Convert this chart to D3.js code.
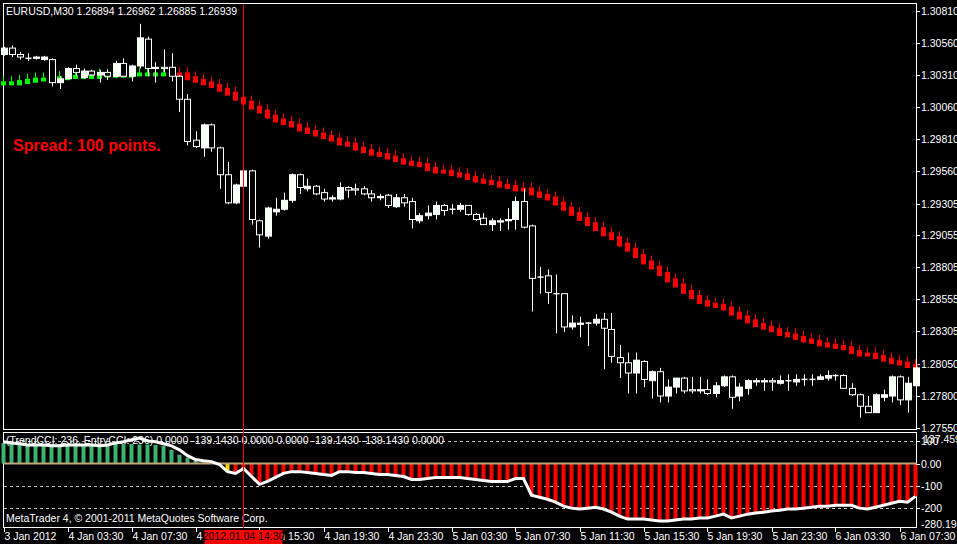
<!DOCTYPE html>
<html>
<head>
<meta charset="utf-8">
<script src="https://cdn.jsdelivr.net/npm/d3@7"></script>
<style>
  body { margin: 0; background: #000; }
  svg text { font-family: "Liberation Sans", Arial, sans-serif; font-size: 10.5px; fill: #fff; }
</style>
</head>
<body>
<svg id="chart" width="957" height="544"></svg>
<script>
// candles: open, high, low, close
var opens  = [1.3047,1.3052,1.3047,1.3044,1.3044,1.3043,1.3043,1.3025,1.3028,1.3036,1.3029,1.3034,1.3031,1.3033,1.3030,1.3040,1.3030,1.3038,1.3059,1.3036,
              1.3037,1.3037,1.3030,1.3012,1.2980,1.2974,1.2992,1.2974,1.2953,1.2931,1.2944,1.2956,1.2917,1.2905,1.2924,1.2926,1.2933,1.2953,1.2942,1.2944,
              1.2939,1.2934,1.2934,1.2943,1.2942,1.2942,1.2938,1.2935,1.2937,1.2928,1.2935,1.2932,1.2917,1.2921,1.2922,1.2929,1.2926,1.2926,1.2929,1.2922,
              1.2919,1.2914,1.2916,1.2917,1.2918,1.2932,1.2913,1.2873,1.2874,1.2860,1.2860,1.2834,1.2836,1.2837,1.2837,1.2840,1.2832,1.2810,1.2806,1.2798,
              1.2807,1.2792,1.2799,1.2780,1.2787,1.2794,1.2785,1.2784,1.2785,1.2782,1.2788,1.2795,1.2780,1.2786,1.2791,1.2791,1.2792,1.2790,1.2792,1.2791,
              1.2793,1.2793,1.2793,1.2794,1.2796,1.2796,1.2786,1.2781,1.2772,1.2767,1.2779,1.2780,1.2795,1.2777,1.2788]
var highs  = [1.3053,1.3054,1.3049,1.3048,1.3046,1.3046,1.3044,1.3030,1.3037,1.3039,1.3036,1.3035,1.3035,1.3035,1.3042,1.3044,1.3039,1.3071,1.3061,1.3041,
              1.3051,1.3048,1.3031,1.3016,1.2987,1.2993,1.2993,1.2975,1.2963,1.2946,1.2960,1.2957,1.2918,1.2928,1.2935,1.2939,1.2954,1.2954,1.2950,1.2945,
              1.2942,1.2937,1.2947,1.2944,1.2946,1.2944,1.2941,1.2938,1.2938,1.2938,1.2938,1.2935,1.2923,1.2929,1.2932,1.2930,1.2930,1.2931,1.2929,1.2923,
              1.2923,1.2919,1.2919,1.2927,1.2936,1.2942,1.2914,1.2881,1.2879,1.2875,1.2860,1.2843,1.2842,1.2838,1.2844,1.2845,1.2845,1.2820,1.2814,1.2814,
              1.2808,1.2800,1.2802,1.2793,1.2794,1.2795,1.2795,1.2795,1.2793,1.2791,1.2796,1.2796,1.2790,1.2793,1.2794,1.2794,1.2794,1.2796,1.2797,1.2797,
              1.2797,1.2797,1.2797,1.2800,1.2797,1.2797,1.2790,1.2782,1.2780,1.2782,1.2785,1.2796,1.2796,1.2795,1.2811]
var lows   = [1.3046,1.3045,1.3043,1.3042,1.3043,1.3042,1.3022,1.3020,1.3028,1.3030,1.3028,1.3030,1.3025,1.3027,1.3029,1.3030,1.3026,1.3036,1.3030,1.3025,
              1.3033,1.3026,1.3002,1.2976,1.2974,1.2967,1.2971,1.2942,1.2930,1.2930,1.2942,1.2914,1.2896,1.2903,1.2921,1.2925,1.2931,1.2938,1.2940,1.2937,
              1.2932,1.2932,1.2933,1.2935,1.2937,1.2937,1.2932,1.2933,1.2927,1.2927,1.2928,1.2911,1.2915,1.2918,1.2918,1.2921,1.2922,1.2924,1.2921,1.2917,
              1.2914,1.2909,1.2909,1.2910,1.2910,1.2911,1.2846,1.2860,1.2852,1.2829,1.2830,1.2832,1.2826,1.2819,1.2835,1.2801,1.2806,1.2794,1.2782,1.2782,
              1.2787,1.2778,1.2775,1.2775,1.2782,1.2782,1.2782,1.2782,1.2781,1.2779,1.2787,1.2770,1.2776,1.2781,1.2788,1.2784,1.2784,1.2789,1.2784,1.2788,
              1.2788,1.2788,1.2793,1.2792,1.2792,1.2786,1.2780,1.2763,1.2767,1.2767,1.2776,1.2775,1.2773,1.2767,1.2790]
var closes = [1.3052,1.3047,1.3045,1.3044,1.3045,1.3045,1.3025,1.3028,1.3036,1.3033,1.3034,1.3031,1.3033,1.3030,1.3040,1.3030,1.3038,1.3060,1.3036,1.3037,
              1.3036,1.3030,1.3012,1.2979,1.2975,1.2992,1.2974,1.2953,1.2931,1.2945,1.2956,1.2918,1.2906,1.2927,1.2926,1.2933,1.2953,1.2943,1.2944,1.2938,
              1.2934,1.2935,1.2943,1.2941,1.2941,1.2938,1.2935,1.2936,1.2929,1.2935,1.2931,1.2918,1.2921,1.2923,1.2929,1.2925,1.2926,1.2929,1.2922,1.2918,
              1.2914,1.2917,1.2917,1.2918,1.2932,1.2912,1.2872,1.2873,1.2861,1.2860,1.2834,1.2837,1.2837,1.2837,1.2840,1.2833,1.2811,1.2806,1.2798,1.2808,
              1.2793,1.2799,1.2780,1.2787,1.2794,1.2784,1.2784,1.2785,1.2782,1.2788,1.2795,1.2779,1.2787,1.2792,1.2792,1.2792,1.2791,1.2792,1.2792,1.2793,
              1.2793,1.2793,1.2795,1.2796,1.2796,1.2786,1.2781,1.2772,1.2767,1.2781,1.2781,1.2795,1.2777,1.2790,1.2802]

// trend line marks
var trendMA = [1.3026,1.3026,1.3027,1.3028,1.3029,1.3029,1.3030,1.3030,1.3031,1.3031,1.3031,1.3031,1.3032,1.3032,1.3032,1.3032,1.3033,1.3033,1.3033,1.3033,
               1.3033,1.3033,1.3033,1.3030,1.3028,1.3026,1.3024,1.3021,1.3018,1.3014,1.3011,1.3007,1.3004,1.3000,1.2997,1.2995,1.2993,1.2990,1.2988,1.2986,
               1.2984,1.2982,1.2979,1.2978,1.2975,1.2973,1.2971,1.2970,1.2968,1.2966,1.2964,1.2963,1.2962,1.2959,1.2957,1.2957,1.2955,1.2954,1.2952,1.2950,
               1.2949,1.2948,1.2946,1.2945,1.2943,1.2943,1.2940,1.2938,1.2936,1.2932,1.2928,1.2924,1.2920,1.2916,1.2912,1.2908,1.2905,1.2900,1.2896,1.2891,
               1.2886,1.2882,1.2877,1.2872,1.2868,1.2863,1.2859,1.2855,1.2853,1.2852,1.2850,1.2846,1.2843,1.2840,1.2837,1.2835,1.2833,1.2830,1.2829,1.2827,
               1.2825,1.2824,1.2822,1.2821,1.2820,1.2819,1.2816,1.2814,1.2814,1.2812,1.2810,1.2808,1.2807,1.2805,1.2805]
var greenUntil = 21

// indicator (CCI)
var cci = [98,93,89,84,84,84,80,80,84,84,84,84,80,84,93,98,107,115,102,98,
           89,80,62,36,18,13,9,-4,-36,-44,-22,-58,-93,-80,-62,-44,-36,-36,-40,-44,
           -49,-53,-36,-36,-40,-40,-44,-49,-49,-53,-58,-71,-71,-67,-62,-62,-62,-62,-67,-71,
           -76,-80,-80,-80,-67,-67,-142,-151,-160,-173,-191,-200,-204,-200,-196,-204,-218,-236,-249,-249,
           -249,-253,-258,-258,-253,-249,-249,-244,-244,-236,-227,-244,-236,-227,-222,-218,-213,-209,-204,-204,
           -200,-196,-191,-191,-187,-187,-187,-200,-204,-196,-187,-178,-169,-173,-147]
var hist = [92,90,88,88,88,88,88,88,88,88,88,88,88,88,88,88,88,86,86,84,
            80,62,40,27,12,6,3,-3,-35,-40,-20,-55,-85,-78,-60,-44,-36,-36,-40,-44,
            -49,-53,-36,-36,-40,-40,-44,-49,-49,-53,-58,-71,-71,-67,-62,-62,-62,-62,-67,-71,
            -76,-80,-80,-80,-67,-67,-142,-151,-160,-173,-191,-200,-204,-200,-196,-204,-218,-236,-249,-249,
            -249,-253,-258,-258,-253,-249,-249,-244,-244,-236,-227,-244,-236,-227,-222,-218,-213,-209,-204,-204,
            -200,-196,-191,-191,-187,-187,-187,-200,-204,-196,-187,-178,-169,-173,-147]
var greyBar = 27, yellowBar = 28

var priceTicks = [1.30810,1.30560,1.30310,1.30060,1.29810,1.29560,1.29305,1.29055,1.28805,1.28555,1.28305,1.28050,1.27800,1.27550]
var cciTicks = [0, -100, -200]
var timeLabels = ["3 Jan 2012","4 Jan 03:30","4 Jan 07:30","4 Jan 11:30","4 Jan 15:30","4 Jan 19:30","4 Jan 23:30","5 Jan 03:30",
                  "5 Jan 07:30","5 Jan 11:30","5 Jan 15:30","5 Jan 19:30","5 Jan 23:30","6 Jan 03:30","6 Jan 07:30"]
var crossBar = 30, crossLabel = "2012.01.04 14:30"

var svg = d3.select("#chart")
var n = closes.length

var x = d3.scaleLinear().domain([0, n - 1]).range([3.5, 915.5])
var y = d3.scaleLinear().domain([1.27550, 1.30810]).range([428, 11])
var yc = d3.scaleLinear().domain([-280.194, 137.459]).range([526, 433])

svg.append("rect").attr("width", 957).attr("height", 544).attr("fill", "#000")

// panel frames
svg.append("rect").attr("x", 3.5).attr("y", 3.5).attr("width", 913).attr("height", 426)
    .attr("fill", "none").attr("stroke", "#fff")
svg.append("rect").attr("x", 3.5).attr("y", 432.5).attr("width", 913).attr("height", 95)
    .attr("fill", "none").attr("stroke", "#fff")

// price axis
var pa = svg.append("g")
pa.selectAll("line").data(priceTicks).enter().append("line")
    .attr("x1", 916).attr("x2", 920).attr("y1", d => Math.round(y(d)) + 0.5).attr("y2", d => Math.round(y(d)) + 0.5)
    .attr("stroke", "#fff")
pa.selectAll("text").data(priceTicks).enter().append("text")
    .attr("x", 921).attr("y", d => y(d) + 4).text(d => d.toFixed(5))

// trend marks
var tm = svg.append("g")
trendMA.forEach(function (v, i) {
    var prev = i > 0 ? trendMA[i - 1] : v
    var top = Math.min(y(v), y(prev)), h = Math.max(4, Math.abs(y(v) - y(prev)) + 4)
    var c = i < greenUntil ? "#00ff00" : "#ff0000"
    tm.append("line").attr("x1", x(i)).attr("x2", x(i)).attr("y1", top - 5).attr("y2", top)
        .attr("stroke", c)
    tm.append("rect").attr("x", x(i) - 2.5).attr("y", top).attr("width", 5).attr("height", h).attr("fill", c)
})

// candles
var cg = svg.append("g")
closes.forEach(function (c, i) {
    var o = opens[i], xi = Math.round(x(i)) + 0.5
    cg.append("line").attr("x1", xi).attr("x2", xi).attr("y1", y(highs[i])).attr("y2", y(lows[i]))
        .attr("stroke", "#fff")
    var top = y(Math.max(o, c)), bot = y(Math.min(o, c))
    if (bot - top < 1) {
        cg.append("line").attr("x1", xi - 3).attr("x2", xi + 3).attr("y1", top).attr("y2", top)
            .attr("stroke", "#fff").attr("stroke-width", 1.5)
    } else {
        cg.append("rect").attr("x", xi - 3).attr("y", top).attr("width", 6).attr("height", bot - top)
            .attr("fill", c > o ? "#f4fff4" : "#000").attr("stroke", "#fff")
    }
})

svg.append("text").attr("x", 13).attr("y", 151).text("Spread: 100 points.")
    .style("font-size", "16px").style("font-weight", "bold").style("fill", "#ff0000")
svg.append("text").attr("x", 6).attr("y", 15).text("EURUSD,M30  1.26894 1.26962 1.26885 1.26939")

// indicator levels
var lv = svg.append("g")
lv.selectAll("line").data([100, -100, -200]).enter().append("line")
    .attr("x1", 4).attr("x2", 916).attr("y1", d => Math.round(yc(d)) + 0.5).attr("y2", d => Math.round(yc(d)) + 0.5)
    .attr("stroke", "#c0c0c0").attr("stroke-dasharray", "3,3")

// histogram
var hg = svg.append("g")
hist.forEach(function (v, i) {
    var col = v > 0 ? "#3cb371" : "#ff0000"
    if (i === greyBar) col = "#c0c0c0"
    if (i === yellowBar) col = "#ffd700"
    hg.append("rect").attr("x", x(i) - 2).attr("width", 4)
        .attr("y", Math.min(yc(v), yc(0))).attr("height", Math.abs(yc(v) - yc(0)))
        .attr("fill", col)
})
svg.append("line").attr("x1", 4).attr("x2", 916).attr("y1", yc(0)).attr("y2", yc(0))
    .attr("stroke", "#bfa67a").attr("stroke-width", 2)

svg.append("path").datum(cci)
    .attr("d", d3.line().x((d, i) => x(i)).y(d => yc(d)))
    .attr("fill", "none").attr("stroke", "#fff").attr("stroke-width", 3)

// indicator axis
var ia = svg.append("g")
ia.selectAll("line").data([100].concat(cciTicks)).enter().append("line")
    .attr("x1", 916).attr("x2", 920).attr("y1", d => Math.round(yc(d)) + 0.5).attr("y2", d => Math.round(yc(d)) + 0.5)
    .attr("stroke", "#fff")
ia.selectAll("text").data(cciTicks).enter().append("text")
    .attr("x", 921).attr("y", d => yc(d) + 4).text(d => d === 0 ? "0.00" : d)
ia.append("text").attr("x", 921).attr("y", yc(100) + 4).text("100")
ia.append("text").attr("x", 923).attr("y", yc(137.459) + 10).text("137.459")
ia.append("text").attr("x", 921).attr("y", yc(-280.194) + 2).text("-280.194")

svg.append("text").attr("x", 6).attr("y", 444)
    .text("(TrendCCI: 236, EntryCCI: 236) 0.0000 -139.1430 0.0000 0.0000 -139.1430 -139.1430 0.0000")
svg.append("text").attr("x", 6).attr("y", 522).text("MetaTrader 4, © 2001-2011 MetaQuotes Software Corp.")

// time axis
var ta = svg.append("g")
timeLabels.forEach(function (t, k) {
    var xi = Math.round(x(k * 8)) + 0.5
    ta.append("line").attr("x1", xi).attr("x2", xi).attr("y1", 528).attr("y2", 532).attr("stroke", "#fff")
    ta.append("text").attr("x", xi).attr("y", 540).text(t)
})

// crosshair
var cx = Math.round(x(crossBar)) + 0.5
svg.append("line").attr("x1", cx).attr("x2", cx).attr("y1", 4).attr("y2", 528)
    .attr("stroke", "#ff0000")
svg.append("rect").attr("x", cx - 39).attr("y", 530).attr("width", 78).attr("height", 14).attr("fill", "#ff0000")
svg.append("text").attr("x", cx).attr("y", 540).attr("text-anchor", "middle").style("fill", "#000").text(crossLabel)
</script>
</body>
</html>
